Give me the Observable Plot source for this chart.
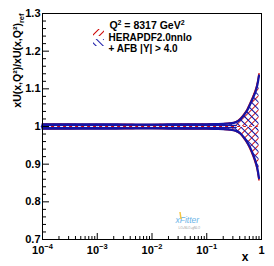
<!DOCTYPE html>
<html><head><meta charset="utf-8">
<script src="https://cdn.jsdelivr.net/npm/d3@7"></script>
<script src="https://cdn.jsdelivr.net/npm/@observablehq/plot@0.6"></script>
<style>body{margin:0;background:#fff} svg{display:block}</style>
</head><body><div id="chart"></div>
<script>
// ---- data ----
const xValues  = [1e-4, 2e-4, 5e-4, 1e-3, 2e-3, 5e-3, 1e-2, 2e-2, 5e-2, 0.1, 0.15, 0.2, 0.27, 0.335, 0.41, 0.47, 0.55, 0.63, 0.7, 0.78, 0.84, 0.9];
const heraUp   = [1.0065, 1.0065, 1.006, 1.006, 1.006, 1.0055, 1.0055, 1.006, 1.0065, 1.0065, 1.007, 1.0075, 1.009, 1.012, 1.021, 1.031, 1.046, 1.065, 1.080, 1.098, 1.115, 1.140];
const heraDn   = [0.9935, 0.9935, 0.994, 0.994, 0.994, 0.9945, 0.9945, 0.994, 0.9935, 0.9935, 0.993, 0.9925, 0.991, 0.988, 0.980, 0.970, 0.955, 0.938, 0.922, 0.902, 0.884, 0.858];
const afbUp    = [1.006, 1.006, 1.0055, 1.0055, 1.0055, 1.005, 1.005, 1.0055, 1.006, 1.006, 1.0065, 1.007, 1.0085, 1.011, 1.019, 1.029, 1.043, 1.061, 1.076, 1.093, 1.110, 1.135];
const afbDn    = [0.994, 0.994, 0.9945, 0.9945, 0.9945, 0.995, 0.995, 0.9945, 0.994, 0.994, 0.9935, 0.993, 0.9915, 0.989, 0.982, 0.972, 0.958, 0.942, 0.926, 0.907, 0.889, 0.863];
const central  = xValues.map(() => 1);
const yTicks   = [0.7, 0.8, 0.9, 1, 1.1, 1.2, 1.3];
const xTicks   = [1e-4, 1e-3, 1e-2, 1e-1, 1];
const xTickLabels = ["10^-4", "10^-3", "10^-2", "10^-1", "1"];
const titleText = "Q^2 = 8317 GeV^2";
const legendLabels = ["HERAPDF2.0nnlo", "+ AFB |Y| > 4.0"];
const yLabel = "xU(x,Q²)/xU(x,Q²)_ref";

const W = 274, H = 266, mL = 42, mR = 13, mT = 13, mB = 27;
const plotW = W - mL - mR, plotH = H - mT - mB;
const yMinor = d3.range(35, 66).map(i => i / 50).filter(v => Math.abs(v * 10 - Math.round(v * 10)) > 1e-6);
const xMinor = d3.range(-4, 0).flatMap(e => d3.range(2, 10).map(m => m * Math.pow(10, e)));
const rows = xValues.map((x, i) => ({x, heraUp: heraUp[i], heraDn: heraDn[i], afbUp: afbUp[i], afbDn: afbDn[i], c: central[i]}));
const narrowRows = rows.filter(r => r.heraUp - r.heraDn < 0.025);
const font = "Liberation Sans, Arial, Helvetica, sans-serif";
const RED = "#d01010", BLUE = "#1414a6";

const chart = Plot.plot({
  width: W, height: H,
  marginLeft: mL, marginRight: mR, marginTop: mT, marginBottom: mB,
  style: {fontFamily: font, background: "white", color: "black"},
  x: {type: "log", domain: [1e-4, 1]},
  y: {domain: [0.7, 1.3]},
  marks: [
    Plot.areaY(rows, {x: "x", y1: "heraDn", y2: "heraUp", fill: "url(#hatchRed)", curve: "monotone-x"}),
    Plot.areaY(rows, {x: "x", y1: "afbDn", y2: "afbUp", fill: "url(#hatchBlue)", curve: "monotone-x"}),
    Plot.line(narrowRows, {x: "x", y: "c", stroke: BLUE, strokeWidth: 3.5}),
    Plot.line(rows, {x: "x", y: "heraUp", stroke: RED, strokeWidth: 1.6, curve: "monotone-x"}),
    Plot.line(rows, {x: "x", y: "heraDn", stroke: RED, strokeWidth: 1.6, curve: "monotone-x"}),
    Plot.line(rows, {x: "x", y: "afbUp", stroke: BLUE, strokeWidth: 2.2, curve: "monotone-x"}),
    Plot.line(rows, {x: "x", y: "afbDn", stroke: BLUE, strokeWidth: 2.2, curve: "monotone-x"}),
    Plot.line(rows, {x: "x", y: "c", stroke: "#e8e8ff", strokeWidth: 1, strokeDasharray: "3,3"}),
    Plot.line(rows, {x: "x", y: "c", stroke: RED, strokeWidth: 1, strokeDasharray: "2,4", strokeDashoffset: 3}),
    Plot.frame({stroke: "black", strokeWidth: 1}),
    Plot.tickY(yTicks, {y: d => d, insetRight: plotW - 7, stroke: "black"}),
    Plot.tickY(yMinor, {y: d => d, insetRight: plotW - 4, stroke: "black"}),
    Plot.tickX(xTicks, {x: d => d, insetTop: plotH - 6, stroke: "black"}),
    Plot.tickX(xMinor, {x: d => d, insetTop: plotH - 3, stroke: "black"}),
    Plot.axisY(yTicks, {tickSize: 0, tickPadding: 2, fontSize: 11, fontWeight: "bold", label: null,
      tickFormat: d => d === 1 ? "1" : d.toFixed(1)}),
    Plot.axisX(xTicks, {tickSize: 0, tickPadding: 7, fontSize: 11, fontWeight: "bold", label: null,
      tickFormat: d => xTickLabels[xTicks.indexOf(d)]}),
    Plot.text(["x"], {frameAnchor: "bottom-right", dx: -13, dy: 21, fontSize: 12, fontWeight: "bold", text: d => d}),
    Plot.text([yLabel], {frameAnchor: "top-left", rotate: -90, textAnchor: "end", dx: -29, dy: 0, fontSize: 10.5, fontWeight: "bold", text: d => d}),
    Plot.text([titleText], {frameAnchor: "top", dx: -5, dy: 8.5, fontSize: 10.5, fontWeight: "bold", text: d => d}),
    Plot.text([legendLabels[0]], {frameAnchor: "top-left", textAnchor: "start", dx: 66, dy: 20, fontSize: 10, fontWeight: "bold", text: d => d}),
    Plot.text([legendLabels[1]], {frameAnchor: "top-left", textAnchor: "start", dx: 66, dy: 31, fontSize: 10, fontWeight: "bold", text: d => d}),
    Plot.text(["xFitter"], {frameAnchor: "bottom-left", textAnchor: "start", dx: 133, dy: -17, fontSize: 8.5, fontStyle: "italic", fill: "#6ab4e8", text: d => d}),
    Plot.text(["LO+NLO+gNLO"], {frameAnchor: "bottom-left", textAnchor: "start", dx: 136, dy: -11, fontSize: 3, fill: "#999", text: d => d})
  ]
});

const svg = d3.select(chart);
const defs = svg.insert("defs", ":first-child");
const pr = defs.append("pattern").attr("id", "hatchRed").attr("patternUnits", "userSpaceOnUse")
  .attr("width", 5).attr("height", 5).attr("patternTransform", "rotate(45)");
pr.append("line").attr("x1", 0).attr("y1", 0).attr("x2", 0).attr("y2", 5).attr("stroke", RED).attr("stroke-width", 2);
const pb = defs.append("pattern").attr("id", "hatchBlue").attr("patternUnits", "userSpaceOnUse")
  .attr("width", 5).attr("height", 5).attr("patternTransform", "rotate(-45)");
pb.append("line").attr("x1", 0).attr("y1", 0).attr("x2", 0).attr("y2", 5).attr("stroke", BLUE).attr("stroke-width", 2);

// superscripts / subscripts
svg.selectAll("text").each(function() {
  const t = d3.select(this);
  const s = this.textContent;
  const m = s.match(/^10\^(-?\d)$/);
  if (m) {
    t.text("10");
    t.append("tspan").attr("dy", -5).attr("font-size", 7.5).text(m[1].replace("-", "−"));
    return;
  }
  if (s === yLabel) {
    t.text("xU(x,Q²)/xU(x,Q²)");
    t.append("tspan").attr("dy", 3).attr("font-size", 7.5).text("ref");
    return;
  }
  if (s === titleText) {
    t.text("Q");
    t.append("tspan").attr("dy", -4).attr("font-size", 7).text("2");
    t.append("tspan").attr("dy", 4).text(" = 8317 GeV");
    t.append("tspan").attr("dy", -4).attr("font-size", 7).text("2");
  }
});

// legend swatches and logo accent
const lg = svg.append("g");
lg.append("rect").attr("x", 93).attr("y", 29).attr("width", 11).attr("height", 7).attr("fill", "url(#hatchRed)");
lg.append("rect").attr("x", 93).attr("y", 39).attr("width", 11).attr("height", 7).attr("fill", "url(#hatchBlue)");
lg.append("path").attr("d", "M180,212 L181,219").attr("stroke", "#f5c542").attr("stroke-width", 1.5);

document.getElementById("chart").append(chart);
</script>
</body></html>
